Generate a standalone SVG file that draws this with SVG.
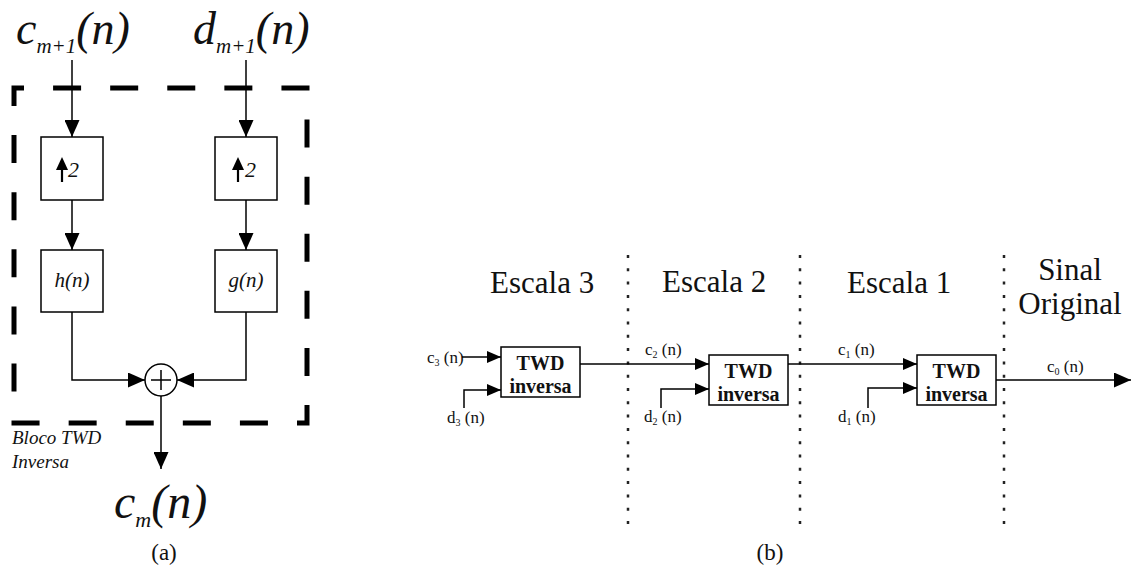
<svg xmlns="http://www.w3.org/2000/svg" width="1132" height="567" viewBox="0 0 1132 567">
<style>
.ln{fill:none;stroke:#000;stroke-width:1.5}
.bx{fill:#fff;stroke:#000;stroke-width:1.5}
.dot{fill:none;stroke:#222;stroke-width:2.5;stroke-dasharray:3 10.3}
.mi{font-family:"Liberation Serif",serif;font-style:italic;fill:#111}
.rm{font-family:"Liberation Serif",serif;fill:#111}
.bd{font-family:"Liberation Serif",serif;font-weight:bold;fill:#111;text-anchor:middle;font-size:20px}
.sm{font-family:"Liberation Serif",serif;fill:#111;font-size:17px}
</style>
<defs>
<marker id="ahA" markerUnits="userSpaceOnUse" markerWidth="17" markerHeight="15" refX="17" refY="7.5" orient="auto"><path d="M0,0 L17,7.5 L0,15 z" fill="#000"/></marker>
<marker id="ahB" markerUnits="userSpaceOnUse" markerWidth="14" markerHeight="12" refX="14" refY="6" orient="auto"><path d="M0,0 L14,6 L0,12 z" fill="#000"/></marker>
<marker id="ahC" markerUnits="userSpaceOnUse" markerWidth="17" markerHeight="15" refX="17" refY="7.5" orient="auto"><path d="M0,0 L17,7.5 L0,15 z" fill="#000"/></marker>
</defs>
<rect fill="#fff" width="1132" height="567"/>

<!-- Part (a) -->
<g id="bloco-frame">
<rect x="14" y="88" width="293" height="335" fill="none" stroke="#000" stroke-width="5" stroke-dasharray="28 29.09" stroke-dashoffset="18"/>
<text class="mi" x="12" y="444" font-size="19">Bloco TWD</text>
<text class="mi" x="12" y="468" font-size="19">Inversa</text>
</g>
<g id="in-c">
<text class="mi" x="16" y="44" font-size="46">c<tspan font-size="21" dy="9">m+1</tspan><tspan dy="-9">(n)</tspan></text>
</g>
<g id="in-d">
<text class="mi" x="193" y="44" font-size="46">d<tspan font-size="21" dy="9">m+1</tspan><tspan dy="-9">(n)</tspan></text>
</g>
<g id="up-left">
<rect class="bx" x="41" y="137" width="62" height="63"/>
<path d="M62,182 V166" stroke="#000" stroke-width="2.2"/>
<path d="M56,170 L62,157 L68,170 z" fill="#000"/>
<text class="mi" x="68" y="177" font-size="22">2</text>
</g>
<g id="up-right">
<rect class="bx" x="215" y="137" width="62" height="63"/>
<path d="M238,182 V166" stroke="#000" stroke-width="2.2"/>
<path d="M232,170 L238,157 L244,170 z" fill="#000"/>
<text class="mi" x="245" y="177" font-size="22">2</text>
</g>
<g id="h-filter">
<rect class="bx" x="41" y="250" width="62" height="62"/>
<text class="mi" x="72" y="287" font-size="21" text-anchor="middle">h(n)</text>
</g>
<g id="g-filter">
<rect class="bx" x="215" y="250" width="62" height="62"/>
<text class="mi" x="246" y="287" font-size="21" text-anchor="middle">g(n)</text>
</g>
<g id="sum">
<circle cx="161" cy="380" r="16" class="bx"/>
<path d="M161,370 V390 M151,380 H171" class="ln"/>
</g>
<g id="out-c">
<text class="mi" x="114" y="518" font-size="48">c<tspan font-size="22" dy="9">m</tspan><tspan dy="-9">(n)</tspan></text>
</g>
<text class="rm" x="164" y="560" font-size="23" text-anchor="middle">(a)</text>

<g id="connectors-a">
<path class="ln" d="M72,60 V137" marker-end="url(#ahA)"/>
<path class="ln" d="M246,60 V137" marker-end="url(#ahA)"/>
<path class="ln" d="M72,200 V250" marker-end="url(#ahA)"/>
<path class="ln" d="M246,200 V250" marker-end="url(#ahA)"/>
<path class="ln" d="M72,312 V380 H145" marker-end="url(#ahA)"/>
<path class="ln" d="M246,312 V380 H177" marker-end="url(#ahA)"/>
<path class="ln" d="M161,396 V469" marker-end="url(#ahA)"/>
</g>

<!-- Part (b) -->
<g id="separators">
<path class="dot" d="M628,255 V534"/>
<path class="dot" d="M800,255 V534"/>
<path class="dot" d="M1004,255 V534"/>
</g>
<g id="headings">
<text class="rm" x="490" y="293" font-size="31">Escala 3</text>
<text class="rm" x="662" y="292" font-size="31">Escala 2</text>
<text class="rm" x="847" y="293" font-size="31">Escala 1</text>
<text class="rm" x="1070" y="280" font-size="31" text-anchor="middle">Sinal</text>
<text class="rm" x="1070" y="314" font-size="31" text-anchor="middle">Original</text>
</g>
<g id="twd3">
<rect class="bx" x="501" y="347" width="79" height="50"/>
<text class="bd" x="540.5" y="370">TWD</text>
<text class="bd" x="540.5" y="393">inversa</text>
</g>
<g id="twd2">
<rect class="bx" x="709" y="355" width="79" height="50"/>
<text class="bd" x="748.5" y="378">TWD</text>
<text class="bd" x="748.5" y="401">inversa</text>
</g>
<g id="twd1">
<rect class="bx" x="917" y="355" width="79" height="50"/>
<text class="bd" x="956.5" y="378">TWD</text>
<text class="bd" x="956.5" y="401">inversa</text>
</g>
<g id="labels-b">
<text class="sm" x="427" y="363">c<tspan font-size="10" dy="3">3</tspan><tspan dy="-3"> (n)</tspan></text>
<text class="sm" x="447" y="423">d<tspan font-size="10" dy="3">3</tspan><tspan dy="-3"> (n)</tspan></text>
<text class="sm" x="645" y="355">c<tspan font-size="10" dy="3">2</tspan><tspan dy="-3"> (n)</tspan></text>
<text class="sm" x="644" y="422">d<tspan font-size="10" dy="3">2</tspan><tspan dy="-3"> (n)</tspan></text>
<text class="sm" x="838" y="355">c<tspan font-size="10" dy="3">1</tspan><tspan dy="-3"> (n)</tspan></text>
<text class="sm" x="838" y="422">d<tspan font-size="10" dy="3">1</tspan><tspan dy="-3"> (n)</tspan></text>
<text class="sm" x="1047" y="372">c<tspan font-size="10" dy="3">0</tspan><tspan dy="-3"> (n)</tspan></text>
</g>
<text class="rm" x="770" y="560" font-size="23" text-anchor="middle">(b)</text>

<g id="connectors-b">
<path class="ln" d="M462,357 H501" marker-end="url(#ahB)"/>
<path class="ln" d="M464,408 V390 H501" marker-end="url(#ahB)"/>
<path class="ln" d="M580,364 H709" marker-end="url(#ahB)"/>
<path class="ln" d="M661,408 V389 H709" marker-end="url(#ahB)"/>
<path class="ln" d="M788,364 H917" marker-end="url(#ahB)"/>
<path class="ln" d="M868,408 V388 H917" marker-end="url(#ahB)"/>
<path class="ln" d="M996,380 H1131" marker-end="url(#ahC)"/>
</g>
</svg>
